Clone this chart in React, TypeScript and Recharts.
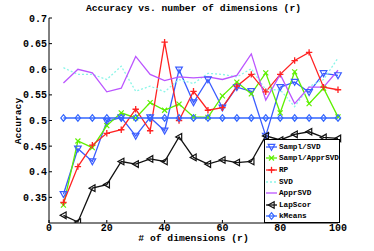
import React from "react";
import { LineChart, Line, XAxis, YAxis } from "recharts";

const dims = [5, 10, 15, 20, 25, 30, 35, 40, 45, 50, 55, 60, 65, 70, 75, 80, 85, 90, 95, 100];
const samplSvd = [0.356, 0.445, 0.42, 0.498, 0.506, 0.47, 0.506, 0.48, 0.599, 0.535, 0.58, 0.525, 0.565, 0.557, 0.47, 0.565, 0.575, 0.555, 0.592, 0.588];
const samplApprSvd = [0.335, 0.46, 0.447, 0.49, 0.515, 0.505, 0.535, 0.52, 0.532, 0.507, 0.506, 0.548, 0.575, 0.552, 0.593, 0.515, 0.595, 0.533, 0.563, 0.507];
const rp = [0.34, 0.41, 0.452, 0.475, 0.482, 0.522, 0.48, 0.653, 0.5, 0.557, 0.52, 0.525, 0.567, 0.59, 0.556, 0.59, 0.617, 0.633, 0.565, 0.56];
const svd = [0.603, 0.59, 0.59, 0.58, 0.606, 0.557, 0.567, 0.556, 0.58, 0.572, 0.592, 0.59, 0.585, 0.601, 0.56, 0.56, 0.527, 0.566, 0.58, 0.622];
const apprSvd = [0.573, 0.6, 0.593, 0.556, 0.563, 0.625, 0.59, 0.578, 0.585, 0.583, 0.585, 0.58, 0.588, 0.63, 0.54, 0.59, 0.533, 0.565, 0.565, 0.598];
const lapScor = [0.315, 0.302, 0.368, 0.375, 0.42, 0.415, 0.425, 0.42, 0.468, 0.428, 0.415, 0.423, 0.418, 0.42, 0.47, 0.462, 0.473, 0.478, 0.467, 0.465];
const kMeans = [0.505, 0.505, 0.505, 0.505, 0.505, 0.505, 0.505, 0.505, 0.505, 0.505, 0.505, 0.505, 0.505, 0.505, 0.505, 0.505, 0.505, 0.505, 0.505, 0.505];

const xTicks = [0, 20, 40, 60, 80, 100];
const yTicks = [0.35, 0.4, 0.45, 0.5, 0.55, 0.6, 0.65, 0.7];

const data = dims.map((d, i) => ({
  d,
  samplSvd: samplSvd[i],
  samplApprSvd: samplApprSvd[i],
  rp: rp[i],
  svd: svd[i],
  apprSvd: apprSvd[i],
  lapScor: lapScor[i],
  kMeans: kMeans[i],
}));

const FONT = "'Liberation Mono', 'DejaVu Sans Mono', monospace";

type Shape = "tri-down" | "x" | "plus" | "tri-left" | "diamond" | "none";

function marker(shape: Shape, color: string, cx: number, cy: number, key?: any) {
  const s = 3.3;
  switch (shape) {
    case "tri-down":
      return <polygon key={key} points={`${cx - s},${cy - s * 0.8} ${cx + s},${cy - s * 0.8} ${cx},${cy + s}`} fill="none" stroke={color} strokeWidth={1.2} />;
    case "tri-left":
      return <polygon key={key} points={`${cx + s * 0.8},${cy - s} ${cx + s * 0.8},${cy + s} ${cx - s},${cy}`} fill="none" stroke={color} strokeWidth={1.2} />;
    case "diamond":
      return <polygon key={key} points={`${cx},${cy - s} ${cx + s * 0.8},${cy} ${cx},${cy + s} ${cx - s * 0.8},${cy}`} fill="none" stroke={color} strokeWidth={1.2} />;
    case "x":
      return (
        <g key={key} stroke={color} strokeWidth={1.2}>
          <line x1={cx - 2.5} y1={cy - 2.5} x2={cx + 2.5} y2={cy + 2.5} />
          <line x1={cx - 2.5} y1={cy + 2.5} x2={cx + 2.5} y2={cy - 2.5} />
        </g>
      );
    case "plus":
      return (
        <g key={key} stroke={color} strokeWidth={1.3}>
          <line x1={cx - 3.2} y1={cy} x2={cx + 3.2} y2={cy} />
          <line x1={cx} y1={cy - 3.2} x2={cx} y2={cy + 3.2} />
        </g>
      );
    default:
      return <g key={key} />;
  }
}

const dotFor = (shape: Shape, color: string) => (p: any) => marker(shape, color, p.cx, p.cy, p.index);

const series = [
  { key: "samplSvd", name: "Sampl/SVD", color: "#3a5cff", shape: "tri-down" as Shape, dash: undefined },
  { key: "samplApprSvd", name: "Sampl/ApprSVD", color: "#5ef000", shape: "x" as Shape, dash: undefined },
  { key: "rp", name: "RP", color: "#ff2222", shape: "plus" as Shape, dash: undefined },
  { key: "svd", name: "SVD", color: "#8af5e8", shape: "none" as Shape, dash: "2 2" },
  { key: "apprSvd", name: "ApprSVD", color: "#bb55ff", shape: "none" as Shape, dash: undefined },
  { key: "lapScor", name: "LapScor", color: "#111111", shape: "tri-left" as Shape, dash: undefined },
  { key: "kMeans", name: "kMeans", color: "#3366ff", shape: "diamond" as Shape, dash: undefined },
];

const YTick = (props: any) => {
  const { x, y, payload } = props;
  return (
    <g>
      <line x1={x} y1={y} x2={x + 3} y2={y} stroke="#000" />
      <text x={x - 2} y={y + 3.5} textAnchor="end" fontFamily={FONT} fontWeight="bold" fontSize={10} fill="#000">
        {payload.value}
      </text>
    </g>
  );
};

const XTick = (props: any) => {
  const { x, y, payload } = props;
  return (
    <g>
      <line x1={x} y1={y} x2={x} y2={y - 3} stroke="#000" />
      <text x={x} y={y + 8} textAnchor="middle" fontFamily={FONT} fontWeight="bold" fontSize={10} fill="#000">
        {payload.value}
      </text>
    </g>
  );
};

export default function App() {
  return (
    <div style={{ position: "absolute", left: 0, top: 0, width: 374, height: 251, background: "#fff", fontFamily: FONT }}>
      <LineChart width={374} height={251} data={data} margin={{ top: 18, right: 36, left: 0, bottom: 0 }}>
        <XAxis
          dataKey="d"
          type="number"
          domain={[0, 100]}
          ticks={xTicks}
          height={28}
          tickSize={0}
          tickMargin={0}
          tick={<XTick />}
          axisLine={{ stroke: "#000" }}
          tickLine={false}
        />
        <YAxis
          type="number"
          domain={[0.3, 0.7]}
          ticks={yTicks}
          width={49}
          tickSize={0}
          tickMargin={0}
          tick={<YTick />}
          axisLine={{ stroke: "#000" }}
          tickLine={false}
          allowDataOverflow
        />
        {series.map((s) => (
          <Line
            key={s.key}
            dataKey={s.key}
            type="linear"
            stroke={s.color}
            strokeWidth={s.key === "kMeans" ? 1.6 : 1.3}
            strokeDasharray={s.dash}
            dot={s.shape === "none" ? false : dotFor(s.shape, s.color)}
            activeDot={false}
            isAnimationActive={false}
          />
        ))}
      </LineChart>

      <div style={{ position: "absolute", left: 0, width: 387, top: 3, textAlign: "center", fontSize: 9.7, fontWeight: "bold", lineHeight: "12px" }}>
        Accuracy vs. number of dimensions (r)
      </div>
      <div style={{ position: "absolute", left: 0, width: 387, top: 234, textAlign: "center", fontSize: 9.7, fontWeight: "bold", lineHeight: "10px" }}>
        # of dimensions (r)
      </div>
      <div
        style={{
          position: "absolute",
          left: 19,
          top: 121,
          transform: "translate(-50%, -50%) rotate(-90deg)",
          fontSize: 9.7,
          fontWeight: "bold",
          lineHeight: "12px",
          whiteSpace: "nowrap",
        }}
      >
        Accuracy
      </div>

      <div
        style={{
          position: "absolute",
          left: 264,
          top: 139,
          width: 74,
          height: 82,
          border: "1px solid #000",
          background: "#fff",
        }}
      >
        {series.map((s, i) => (
          <div key={s.key} style={{ position: "absolute", left: 0, top: 1 + i * 11.6, height: 11.6, display: "flex", alignItems: "center" }}>
            <svg width={13} height={10} style={{ display: "block" }}>
              <line x1={1} y1={5} x2={12} y2={5} stroke={s.color} strokeWidth={1.3} strokeDasharray={s.dash} />
              {marker(s.shape, s.color, 6.5, 5)}
            </svg>
            <span style={{ fontSize: 7.7, fontWeight: "bold", marginLeft: 1, whiteSpace: "nowrap", lineHeight: "10px" }}>{s.name}</span>
          </div>
        ))}
      </div>
    </div>
  );
}
